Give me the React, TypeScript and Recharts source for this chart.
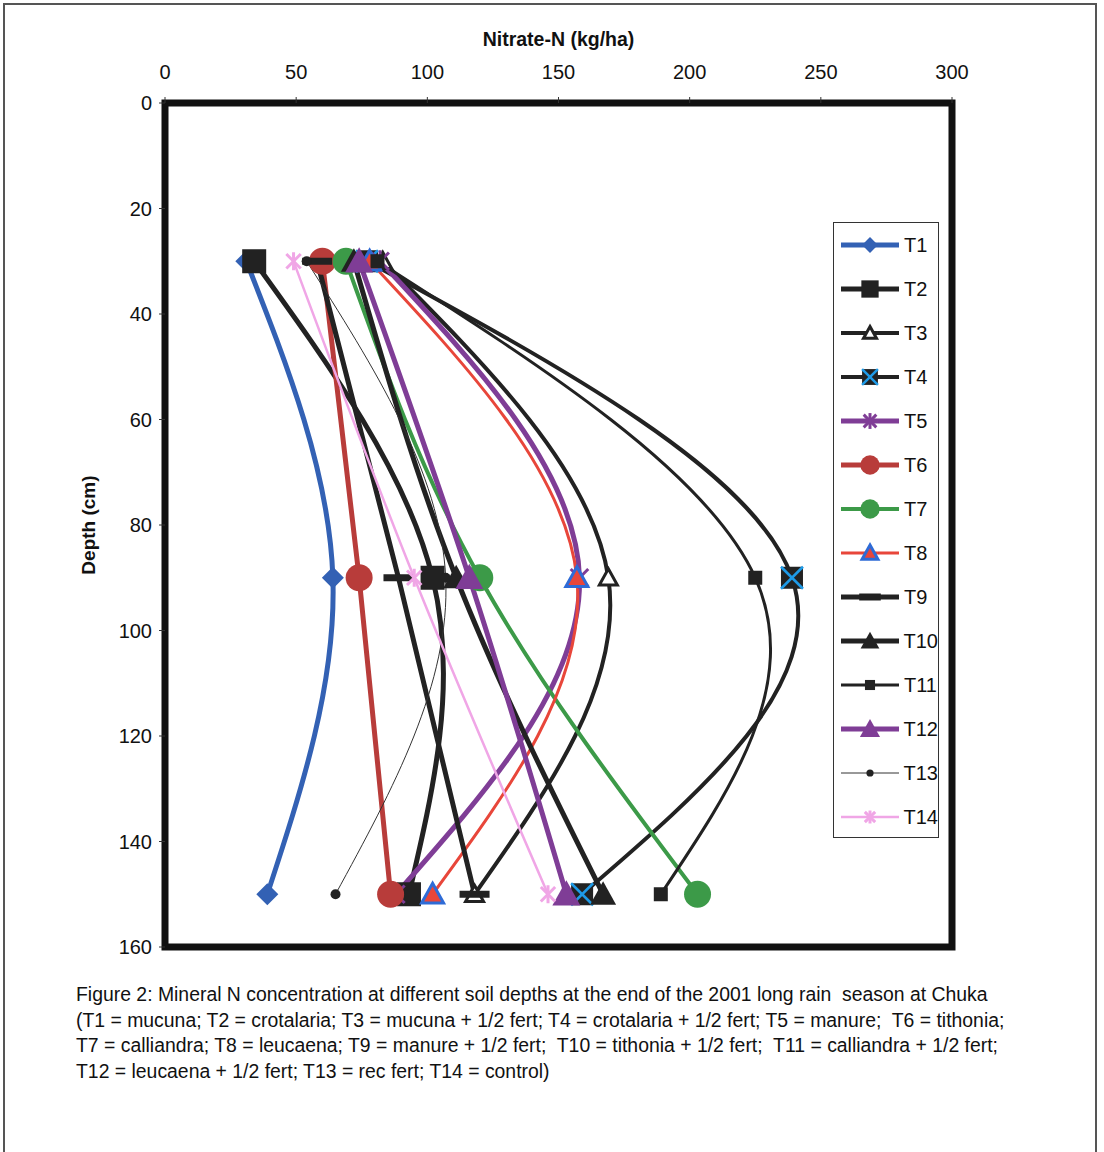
import React from 'react';
import { LineChart, Line, XAxis, YAxis, ReferenceArea, Legend } from 'recharts';

// depth of each sampling layer (cm)
const depths = [30, 90, 150];

// nitrate-N (kg/ha) per treatment at 30, 90, 150 cm
const t1 = [31, 64, 39];
const t2 = [34, 102, 93];
const t3 = [83, 169, 118];
const t4 = [77, 239, 159];
const t5 = [82, 158, 88];
const t6 = [60, 74, 86];
const t7 = [69, 120, 203];
const t8 = [78, 157, 102];
const t9 = [58, 89, 118];
const t10 = [72, 111, 167];
const t11 = [81, 225, 189];
const t12 = [74, 116, 153];
const t13 = [54, 107, 65];
const t14 = [49, 95, 146];

const xTicks = [0, 50, 100, 150, 200, 250, 300];
const yTicks = [0, 20, 40, 60, 80, 100, 120, 140, 160];

const FONT = '"Liberation Sans", Arial, sans-serif';

type Marker = 'diamond' | 'square' | 'openTri' | 'xsq' | 'star' | 'circle' | 'tri' | 'dash' | 'dot' | 'none' | 'smallSq';

interface Series {
  key: string;
  values: number[];
  color: string;
  width: number;
  marker: Marker;
  mcolor: string;
  mstroke?: string;
  size: number;
}

const series: Series[] = [
  { key: 'T1', values: t1, color: '#3361b4', width: 5, marker: 'diamond', mcolor: '#3361b4', size: 22 },
  { key: 'T2', values: t2, color: '#222', width: 5, marker: 'square', mcolor: '#222', size: 24 },
  { key: 'T3', values: t3, color: '#222', width: 4, marker: 'openTri', mcolor: '#fff', mstroke: '#222', size: 18 },
  { key: 'T4', values: t4, color: '#222', width: 4, marker: 'xsq', mcolor: '#222', mstroke: '#1e9be8', size: 22 },
  { key: 'T5', values: t5, color: '#7f3d96', width: 5, marker: 'star', mcolor: '#7f3d96', size: 22 },
  { key: 'T6', values: t6, color: '#b83c3a', width: 5, marker: 'circle', mcolor: '#b83c3a', size: 27 },
  { key: 'T7', values: t7, color: '#3c9a48', width: 4, marker: 'circle', mcolor: '#3c9a48', size: 27 },
  { key: 'T8', values: t8, color: '#e8463a', width: 3, marker: 'tri', mcolor: '#e8463a', mstroke: '#2e6bd6', size: 22 },
  { key: 'T9', values: t9, color: '#222', width: 5, marker: 'dash', mcolor: '#222', size: 30 },
  { key: 'T10', values: t10, color: '#222', width: 5, marker: 'tri', mcolor: '#222', size: 26 },
  { key: 'T11', values: t11, color: '#222', width: 3, marker: 'smallSq', mcolor: '#222', size: 14 },
  { key: 'T12', values: t12, color: '#7f3d96', width: 5, marker: 'tri', mcolor: '#7f3d96', size: 28 },
  { key: 'T13', values: t13, color: '#333', width: 1, marker: 'dot', mcolor: '#222', size: 10 },
  { key: 'T14', values: t14, color: '#f0a6e6', width: 2.5, marker: 'star', mcolor: '#f0a6e6', size: 18 },
];

const data = depths.map((d, i) => {
  const row: Record<string, number> = { depth: d };
  series.forEach((s) => {
    row[s.key] = s.values[i];
  });
  return row;
});

function drawMarker(s: Series, cx: number, cy: number, scale = 1) {
  const h = (s.size * scale) / 2;
  switch (s.marker) {
    case 'diamond':
      return <polygon points={`${cx},${cy - h} ${cx + h},${cy} ${cx},${cy + h} ${cx - h},${cy}`} fill={s.mcolor} />;
    case 'square':
    case 'smallSq':
      return <rect x={cx - h} y={cy - h} width={h * 2} height={h * 2} fill={s.mcolor} />;
    case 'xsq':
      return (
        <g>
          <rect x={cx - h} y={cy - h} width={h * 2} height={h * 2} fill={s.mcolor} />
          <line x1={cx - h} y1={cy - h} x2={cx + h} y2={cy + h} stroke={s.mstroke} strokeWidth={2.5} />
          <line x1={cx - h} y1={cy + h} x2={cx + h} y2={cy - h} stroke={s.mstroke} strokeWidth={2.5} />
        </g>
      );
    case 'openTri':
    case 'tri':
      return (
        <polygon
          points={`${cx},${cy - h} ${cx + h},${cy + h * 0.8} ${cx - h},${cy + h * 0.8}`}
          fill={s.mcolor}
          stroke={s.mstroke || 'none'}
          strokeWidth={s.mstroke ? 3 : 0}
          strokeLinejoin="miter"
        />
      );
    case 'star':
      return (
        <g stroke={s.mcolor} strokeWidth={3}>
          <line x1={cx - h * 0.8} y1={cy - h * 0.8} x2={cx + h * 0.8} y2={cy + h * 0.8} />
          <line x1={cx - h * 0.8} y1={cy + h * 0.8} x2={cx + h * 0.8} y2={cy - h * 0.8} />
          <line x1={cx} y1={cy - h} x2={cx} y2={cy + h} />
        </g>
      );
    case 'circle':
    case 'dot':
      return <circle cx={cx} cy={cy} r={h} fill={s.mcolor} />;
    case 'dash':
      return <rect x={cx - h} y={cy - 3.5} width={h * 2} height={7} fill={s.mcolor} />;
    default:
      return null;
  }
}

const renderLegend = () => (
  <div
    style={{
      width: 106,
      height: 616,
      border: '1.5px solid #333',
      background: '#fff',
      boxSizing: 'border-box',
      fontFamily: FONT,
    }}
  >
    {series.map((s) => (
      <div key={s.key} style={{ height: 44, display: 'flex', alignItems: 'center' }}>
        <svg width={64} height={30} style={{ marginLeft: 5 }}>
          <line x1={2} y1={15} x2={60} y2={15} stroke={s.color} strokeWidth={s.width} />
          {drawMarker(s, 31, 15, 0.72)}
        </svg>
        <span style={{ fontSize: 20, color: '#111', marginLeft: 1 }}>{s.key}</span>
      </div>
    ))}
  </div>
);

const App: React.FC = () => {
  return (
    <div style={{ position: 'absolute', left: 0, top: 0, width: 1104, height: 1152, background: '#fff', overflow: 'hidden' }}>
      <div
        style={{
          position: 'absolute',
          left: 3,
          top: 3,
          width: 1094,
          height: 1170,
          border: '2px solid #555',
          boxSizing: 'border-box',
        }}
      />
      <div style={{ position: 'absolute', left: 0, top: 0 }}>
        <LineChart
          width={1104}
          height={960}
          data={data}
          layout="vertical"
          margin={{ top: 73, right: 152, bottom: 13, left: 105 }}
        >
          <XAxis
            type="number"
            orientation="top"
            domain={[0, 300]}
            ticks={xTicks}
            axisLine={false}
            tickSize={6}
            tickMargin={18}
            height={30}
            tickLine={{ stroke: '#333' }}
            tick={{ fill: '#111', fontSize: 20, fontFamily: FONT }}
            label={(props: any) => {
              const vb = props.viewBox;
              return (
                <text x={vb.x + vb.width / 2} y={vb.y - 27} textAnchor="middle" fontFamily={FONT} fontWeight="bold" fontSize={19.5} fill="#111">
                  Nitrate-N (kg/ha)
                </text>
              );
            }}
          />
          <YAxis
            type="number"
            dataKey="depth"
            domain={[0, 160]}
            ticks={yTicks}
            axisLine={false}
            width={60}
            tickSize={6}
            tickMargin={7}
            tickLine={{ stroke: '#333' }}
            tick={{ fill: '#111', fontSize: 20, fontFamily: FONT }}
            label={(props: any) => {
              const vb = props.viewBox;
              const x = vb.x - 10;
              const y = vb.y + vb.height / 2;
              return (
                <text x={x} y={y} transform={`rotate(-90 ${x} ${y})`} textAnchor="middle" fontFamily={FONT} fontWeight="bold" fontSize={19} fill="#111">
                  Depth (cm)
                </text>
              );
            }}
          />
          <ReferenceArea x1={0} x2={300} y1={0} y2={160} fill="none" stroke="#111" strokeWidth={7} />
          {series.map((s) => (
            <Line
              key={s.key}
              dataKey={s.key}
              type="natural"
              stroke={s.color}
              strokeWidth={s.width}
              isAnimationActive={false}
              dot={(p: any) => <g key={`${s.key}-${p.index}`}>{drawMarker(s, p.cx, p.cy)}</g>}
              activeDot={false}
            />
          ))}
          <Legend
            layout="horizontal"
            verticalAlign="middle"
            content={renderLegend}
            wrapperStyle={{ position: 'absolute', left: 833, top: 222, width: 106, height: 616 }}
          />
        </LineChart>
      </div>
      <div
        style={{
          position: 'absolute',
          left: 76,
          top: 982,
          fontFamily: FONT,
          fontSize: 19.4,
          lineHeight: '25.5px',
          color: '#111',
          whiteSpace: 'pre',
        }}
      >
        {'Figure 2: Mineral N concentration at different soil depths at the end of the 2001 long rain  season at Chuka\n' +
          '(T1 = mucuna; T2 = crotalaria; T3 = mucuna + 1/2 fert; T4 = crotalaria + 1/2 fert; T5 = manure;  T6 = tithonia;\n' +
          'T7 = calliandra; T8 = leucaena; T9 = manure + 1/2 fert;  T10 = tithonia + 1/2 fert;  T11 = calliandra + 1/2 fert;\n' +
          'T12 = leucaena + 1/2 fert; T13 = rec fert; T14 = control)'}
      </div>
    </div>
  );
};

export default App;
